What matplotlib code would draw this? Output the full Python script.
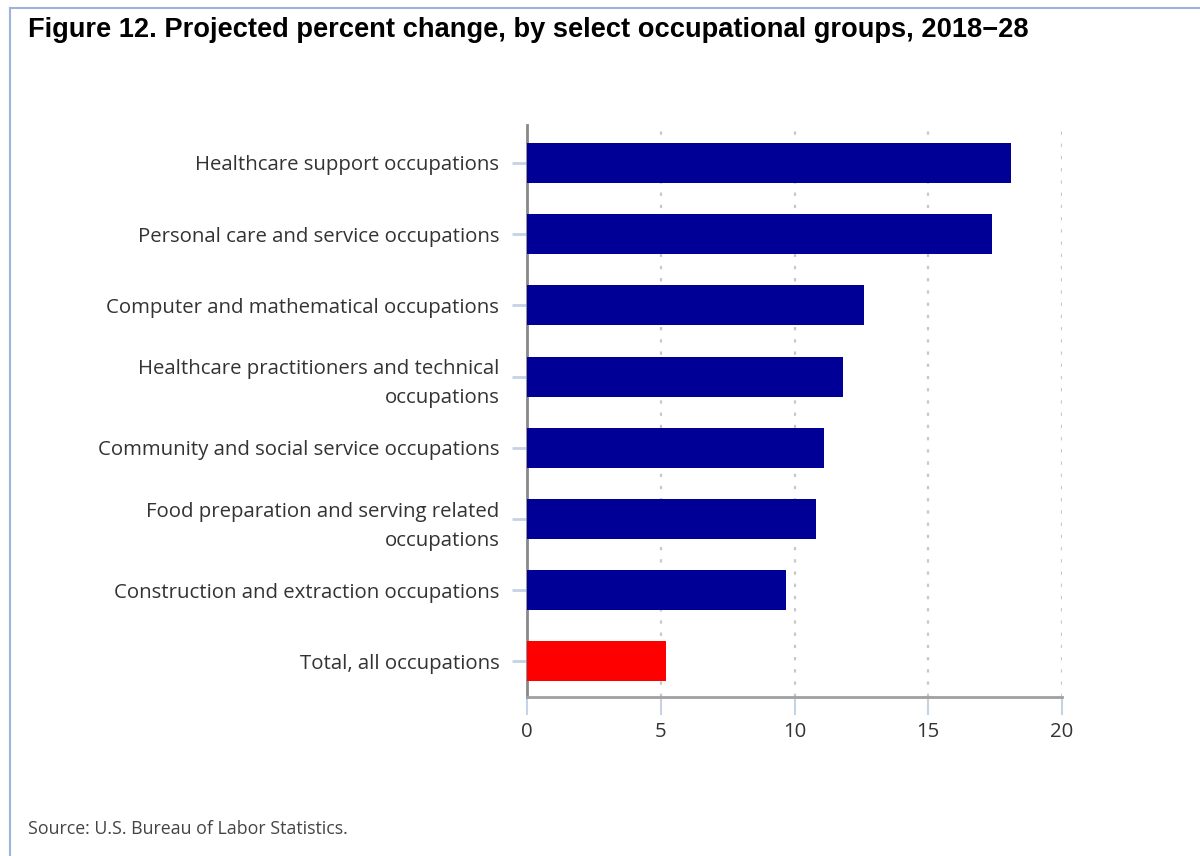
import matplotlib.pyplot as plt
from matplotlib.lines import Line2D

# Occupational groups, top to bottom
groups = [
    "Healthcare support occupations",
    "Personal care and service occupations",
    "Computer and mathematical occupations",
    "Healthcare practitioners and technical\noccupations",
    "Community and social service occupations",
    "Food preparation and serving related\noccupations",
    "Construction and extraction occupations",
    "Total, all occupations",
]
pct_change = [18.1, 17.4, 12.6, 11.8, 11.1, 10.8, 9.7, 5.2]
bar_colors = ["#000096"] * 7 + ["#ff0000"]
x_ticks = [0, 5, 10, 15, 20]

label_font = "Open Sans"
text_grey = "#333333"
tick_blue = "#c5d3e6"

fig = plt.figure(figsize=(12, 8.56), dpi=100)
ax = fig.add_axes([0.4392, 0.1857, 0.4458, 0.668])

ypos = list(range(len(groups)))
ax.barh(ypos, pct_change, height=0.56, color=bar_colors, zorder=3)

ax.set_xlim(0, 20)
ax.set_ylim(7.5, -0.53)
ax.set_yticks(ypos)
ax.set_yticklabels(groups, fontfamily=label_font, fontsize=14.7, color=text_grey,
                   linespacing=1.6)
ax.set_xticks(x_ticks)
ax.set_xticklabels([str(t) for t in x_ticks], fontfamily=label_font,
                   fontsize=14.7, color=text_grey)

# dotted vertical gridlines
ax.grid(axis="x", linestyle=(0, (1.5, 4)), color="#c8c8c8", linewidth=1.6, zorder=0)
ax.grid(axis="y", visible=False)

for side in ["top", "right"]:
    ax.spines[side].set_visible(False)
ax.spines["left"].set_color("#888888")
ax.spines["left"].set_linewidth(2)
ax.spines["bottom"].set_color("#a0a0a0")
ax.spines["bottom"].set_linewidth(2)

ax.tick_params(axis="y", length=11, width=2, color=tick_blue, pad=9)
ax.tick_params(axis="x", length=13, width=1.5, color=tick_blue, pad=5)

# title and source note
fig.text(28 / 1200, 1 - 30 / 856,
         "Figure 12. Projected percent change, by select occupational groups, 2018\u221228",
         fontfamily="Liberation Sans", fontweight="bold", fontsize=19.6,
         color="black", va="center", ha="left")
fig.text(28 / 1200, 1 - 829 / 856, "Source: U.S. Bureau of Labor Statistics.",
         fontfamily=label_font, fontsize=12.8, color="#444444", va="center", ha="left")

# light blue frame along the top and left edges
frame_color = "#9db3dc"
fig.add_artist(Line2D([10 / 1200, 1.0], [1 - 8 / 856, 1 - 8 / 856],
                      transform=fig.transFigure, color=frame_color, linewidth=1.5))
fig.add_artist(Line2D([10 / 1200, 10 / 1200], [0, 1 - 8 / 856],
                      transform=fig.transFigure, color=frame_color, linewidth=1.5))

fig.savefig("out.png", dpi=100)
